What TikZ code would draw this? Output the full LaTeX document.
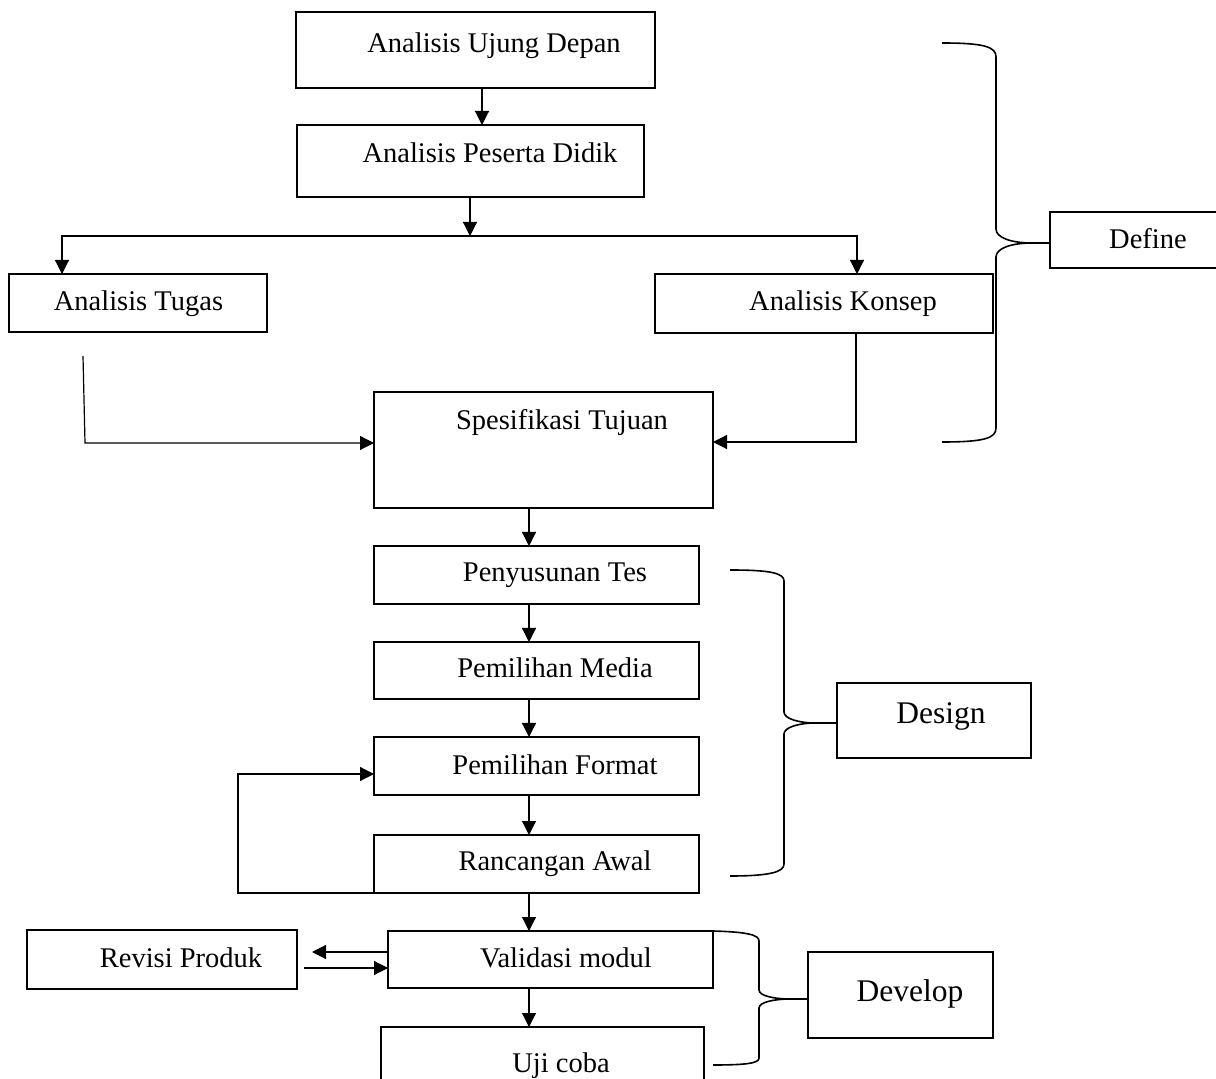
\documentclass[tikz,border=0pt]{standalone}
\usepackage{fontspec}
\setmainfont{Liberation Serif}
\usetikzlibrary{arrows.meta,calc}
\newcommand{\fsmain}{\fontsize{14.25pt}{17pt}\selectfont}
\newcommand{\fsbig}{\fontsize{15.75pt}{19pt}\selectfont}
\tikzset{
  box/.style={draw, rectangle, line width=1pt, inner sep=0pt, outer sep=0pt},
  lbl/.style={anchor=base, inner sep=0pt, font=\fsmain},
  biglbl/.style={anchor=base, inner sep=0pt, font=\fsbig},
  arr/.style={line width=0.6pt, -{Triangle[length=7pt,width=7pt]}},
  conn/.style={line width=0.6pt},
  brace/.style={line width=0.8pt}
}
\begin{document}
\begin{tikzpicture}[x=0.5pt,y=-0.5pt]
\fill[white] (0,0) rectangle (1216,1079);
\useasboundingbox (0,0) rectangle (1216,1079);
\begin{scope}
\clip (0,0) rectangle (1216,1079);
% boxes
\node[box, minimum width=179.5pt, minimum height=38pt] (ud) at (475.5,50) {};
\node[box, minimum width=173.5pt, minimum height=36pt] (pd) at (470.5,161) {};
\node[box, minimum width=129pt, minimum height=29pt] (at) at (138,303) {};
\node[box, minimum width=169pt, minimum height=29.5pt] (ak) at (823.5,303.5) {};
\node[box, minimum width=169.5pt, minimum height=58pt] (st) at (543.5,450) {};
\node[box, minimum width=162.5pt, minimum height=29pt] (pt) at (536.5,575) {};
\node[box, minimum width=162.5pt, minimum height=28.5pt] (pm) at (536.5,670.5) {};
\node[box, minimum width=162.5pt, minimum height=29pt] (pf) at (536.5,766) {};
\node[box, minimum width=162.5pt, minimum height=29pt] (ra) at (536.5,864) {};
\node[box, minimum width=162.5pt, minimum height=28.5pt] (vm) at (550.5,959.5) {};
\node[box, minimum width=135pt, minimum height=29.5pt] (rp) at (162,959.5) {};
\node[box, minimum width=161.5pt, minimum height=34pt] (uc) at (542.5,1061) {};
\node[box, minimum width=87.5pt, minimum height=28pt] (def) at (1137.5,240) {};
\node[box, minimum width=97pt, minimum height=37.5pt] (des) at (934,720.5) {};
\node[box, minimum width=92.5pt, minimum height=43pt] (dev) at (900.5,995) {};
% labels
\node[lbl] (tud) at (494,53) {Analisis Ujung Depan};
\node[lbl] (tpd) at (490,163) {Analisis Peserta Didik};
\node[lbl] (tat) at (138.5,311) {Analisis Tugas};
\node[lbl] (tak) at (843,311) {Analisis Konsep};
\node[lbl] (tst) at (562,430) {Spesifikasi Tujuan};
\node[lbl] (tpt) at (555,582) {Penyusunan Tes};
\node[lbl] (tpm) at (555,678) {Pemilihan Media};
\node[lbl] (tpf) at (555,775) {Pemilihan Format};
\node[lbl] (tra) at (555,870) {Rancangan Awal};
\node[lbl] (tvm) at (566,967) {Validasi modul};
\node[lbl] (trp) at (181,967) {Revisi Produk};
\node[lbl] (tuc) at (561,1072) {Uji coba};
\node[lbl] (tdef) at (1148,249) {Define};
\node[biglbl] (tdes) at (941,724) {Design};
\node[biglbl] (tdev) at (910,1001) {Develop};
% connectors
\draw[arr] ($(ud.south)+(6.5,0)$) -- ($(pd.north)+(11.5,0)$);
\coordinate (split) at (470,236);
\draw[arr] ($(pd.south)+(-0.5,0)$) -- (split);
\draw[arr] (split) -| ($(at.north)+(-76,0)$);
\draw[arr] (split) -| ($(ak.north)+(33.5,0)$);
\coordinate (tstart) at (83,356);
\draw[arr] (tstart) -- ($(st.west)+(-289,-7)$) -- ($(st.west)+(0,-7)$);
\draw[arr] ($(ak.south)+(32.5,0)$) |- ($(st.east)+(0,-8)$);
\draw[arr] ($(st.south)+(-14.5,0)$) -- ($(pt.north)+(-7.5,0)$);
\draw[arr] ($(pt.south)+(-7.5,0)$) -- ($(pm.north)+(-7.5,0)$);
\draw[arr] ($(pm.south)+(-7.5,0)$) -- ($(pf.north)+(-7.5,0)$);
\draw[arr] ($(pf.south)+(-7.5,0)$) -- ($(ra.north)+(-7.5,0)$);
\draw[arr] ($(ra.south)+(-7.5,0)$) -- ($(vm.north)+(-21.5,0)$);
\draw[arr] ($(vm.south)+(-21.5,0)$) -- ($(uc.north)+(-13.5,0)$);
\draw[arr] (ra.south west) -| ($(pf.west)+(-136,8)$) -- ($(pf.west)+(0,8)$);
\draw[arr] ($(vm.west)+(0,-7.5)$) -- ($(rp.east)+(15,-7.5)$);
\draw[arr] ($(rp.east)+(7,8.5)$) -- ($(vm.west)+(0,8.5)$);
% braces
\coordinate (dtip) at (1032,243);
\draw[brace] (942,43) .. controls (985,43) and (996,47) .. (996,57) -- (996,229)
  .. controls (996,238) and (1012,243) .. (dtip) -- ($(def.west)+(0,3)$);
\draw[brace] (dtip) .. controls (1012,243) and (996,248) .. (996,257) -- (996,428)
  .. controls (996,438) and (985,442) .. (942,442);
\coordinate (gtip) at (815,723);
\draw[brace] (730,570) .. controls (770,570) and (784,573) .. (784,581) -- (784,712)
  .. controls (784,719) and (800,723) .. (gtip) -- ($(des.west)+(0,2.5)$);
\draw[brace] (gtip) .. controls (800,723) and (784,727) .. (784,734) -- (784,864)
  .. controls (784,872) and (770,876) .. (730,876);
\coordinate (vtip) at (790,999);
\draw[brace] (vm.north east) .. controls (748,932) and (759,935) .. (759,941) -- (759,990)
  .. controls (759,996) and (775,999) .. (vtip) -- ($(dev.west)+(0,4)$);
\draw[brace] (vtip) .. controls (775,999) and (759,1002) .. (759,1008) -- (759,1058)
  .. controls (759,1063) and (748,1065) .. (713,1065);
\end{scope}
\end{tikzpicture}
\end{document}
